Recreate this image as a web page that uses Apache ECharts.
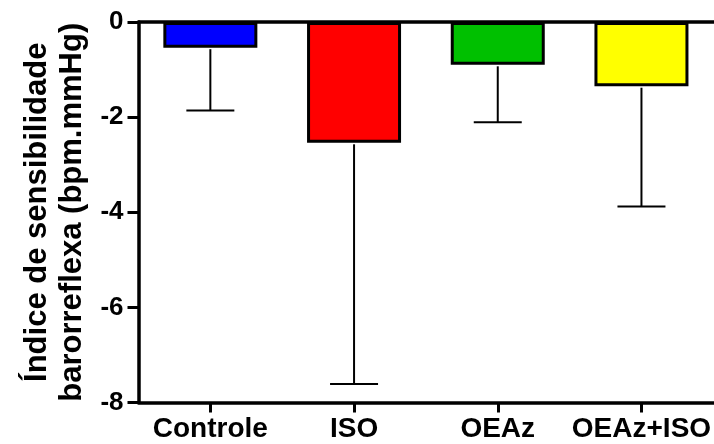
<!DOCTYPE html>
<html>
<head>
<meta charset="utf-8">
<script src="https://cdn.jsdelivr.net/npm/echarts@6/dist/echarts.min.js"></script>
<style>
html,body{margin:0;padding:0;background:#fff;}
#chart{width:714px;height:444px;}
</style>
</head>
<body>
<div id="chart"></div>
<script>
var categories = ['Controle', 'ISO', 'OEAz', 'OEAz+ISO'];
var means = [-0.54, -2.54, -0.90, -1.35];
var errors = [1.32, 5.07, 1.21, 2.53];
var barColors = ['#0000FF', '#FF0000', '#00C000', '#FFFF00'];
var yTicks = [-8, -6, -4, -2, 0];
var yTitle = 'Índice de sensibilidade\nbarorreflexa (bpm.mmHg)';

var FONT = '"Liberation Sans", Arial, Helvetica, sans-serif';
var chart = echarts.init(document.getElementById('chart'), null, {renderer: 'canvas'});

var errData = means.map(function (m, i) { return [i, m, m - errors[i]]; });

var option = {
  animation: false,
  backgroundColor: '#ffffff',
  grid: {left: 138.5, top: 22, right: 0, bottom: 41.5, containLabel: false},
  xAxis: [{
    type: 'category',
    data: categories,
    position: 'bottom',
    axisLine: {show: true, onZero: false, lineStyle: {color: '#000', width: 3.5}},
    axisTick: {show: true, alignWithLabel: true, interval: 0, length: 10, lineStyle: {color: '#000', width: 3}},
    axisLabel: {interval: 0, hideOverlap: false, color: '#000', fontFamily: FONT, fontWeight: 'bold', fontSize: 28, margin: 13},
    splitLine: {show: false}
  }, {
    type: 'category',
    data: categories,
    position: 'top',
    axisLine: {show: true, onZero: false, lineStyle: {color: '#000', width: 3.5}},
    axisTick: {show: false},
    axisLabel: {show: false},
    splitLine: {show: false}
  }],
  yAxis: {
    type: 'value',
    min: yTicks[0],
    max: yTicks[yTicks.length - 1],
    interval: 2,
    name: yTitle,
    nameLocation: 'middle',
    nameGap: 48,
    nameTextStyle: {color: '#000', fontFamily: FONT, fontWeight: 'bold', fontSize: 31, lineHeight: 35},
    axisLine: {show: true, lineStyle: {color: '#000', width: 3.5}},
    axisTick: {show: true, length: 11, lineStyle: {color: '#000', width: 3}},
    axisLabel: {color: '#000', fontFamily: FONT, fontWeight: 'bold', fontSize: 26, margin: 15},
    splitLine: {show: false}
  },
  series: [{
    type: 'bar',
    data: means.map(function (v, i) {
      return {value: v, itemStyle: {color: barColors[i]}};
    }),
    barWidth: 94,
    itemStyle: {borderColor: '#000', borderWidth: 3},
    z: 2
  }, {
    type: 'custom',
    data: errData,
    z: 3,
    renderItem: function (params, api) {
      var idx = api.value(0);
      var p1 = api.coord([idx, api.value(1)]);
      var p2 = api.coord([idx, api.value(2)]);
      var half = api.size([1, 0])[0] * 0.167;
      var style = {stroke: '#000', lineWidth: 2};
      return {
        type: 'group',
        children: [
          {type: 'line', shape: {x1: p1[0], y1: p1[1] + 1.5, x2: p2[0], y2: p2[1]}, style: style},
          {type: 'line', shape: {x1: p2[0] - half, y1: p2[1], x2: p2[0] + half, y2: p2[1]}, style: style}
        ]
      };
    }
  }]
};
chart.setOption(option);
</script>
</body>
</html>
